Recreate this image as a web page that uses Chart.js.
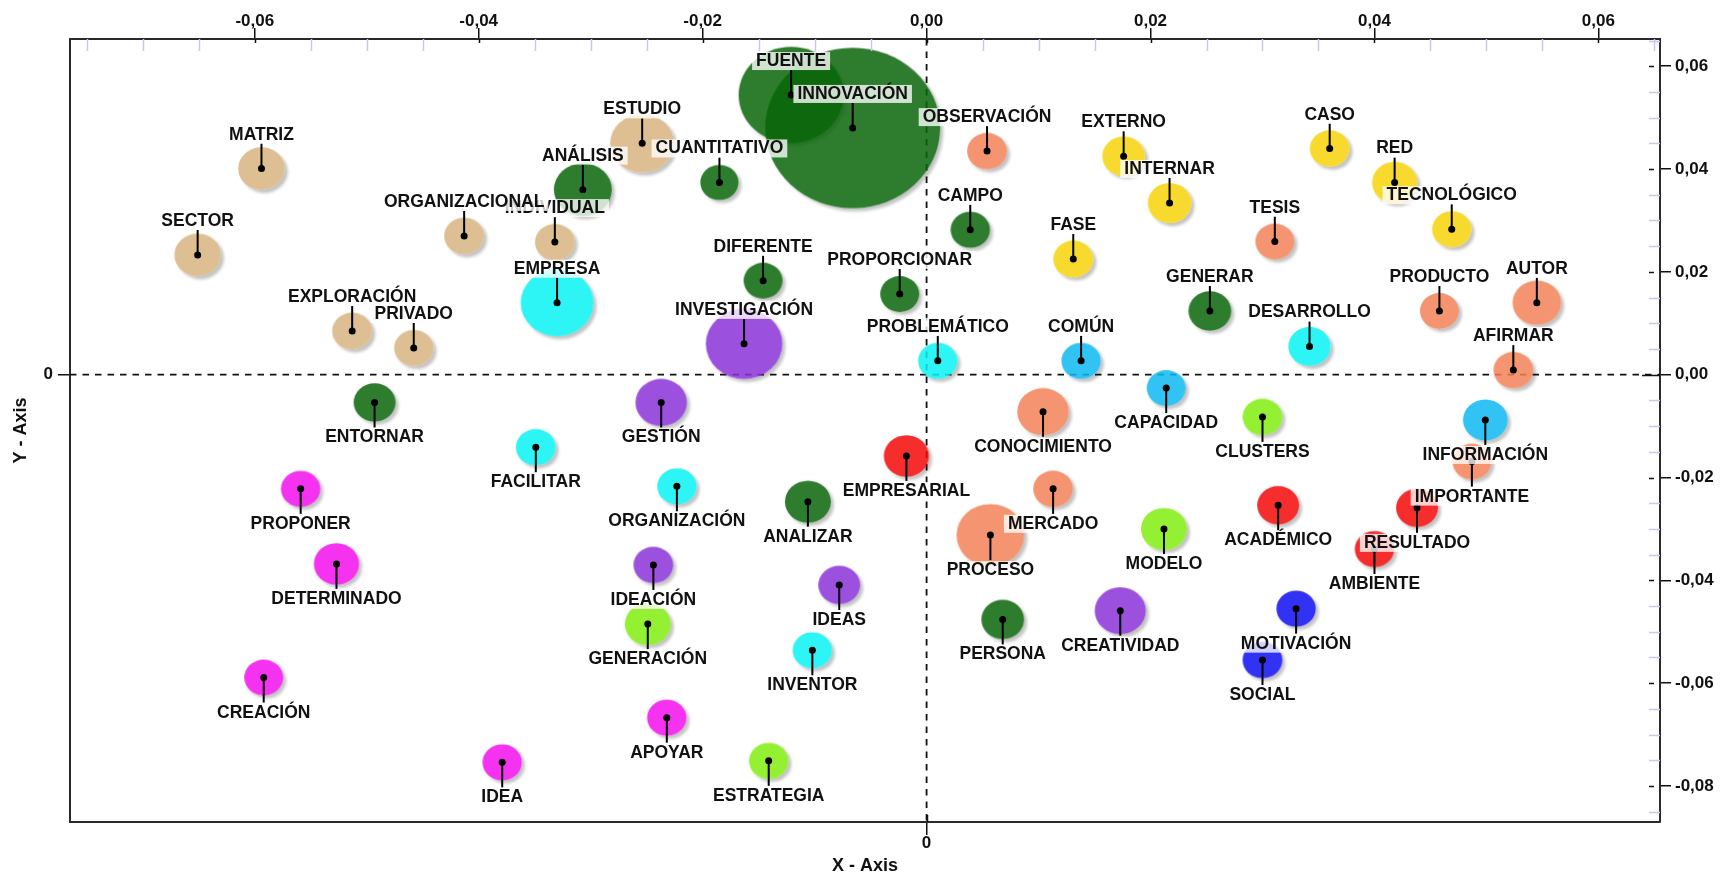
<!DOCTYPE html>
<html lang="es">
<head>
<meta charset="utf-8">
<title>Mapa de términos</title>
<script src="https://cdn.jsdelivr.net/npm/chart.js@4/dist/chart.umd.min.js"></script>
<style>
  html, body { margin: 0; padding: 0; background: #ffffff; }
  #wrap { width: 1720px; height: 874px; }
  canvas { display: block; }
</style>
</head>
<body>
<div id="wrap"><canvas id="map" width="1720" height="874"></canvas></div>
<script>
// ---- Terms and their coordinates on the two factorial axes ----
const terms = [
  'MATRIZ', 'SECTOR', 'INDIVIDUAL', 'ORGANIZACIONAL', 'ESTUDIO', 'EXPLORACIÓN', 'PRIVADO',
  'FUENTE', 'INNOVACIÓN', 'ANÁLISIS', 'CUANTITATIVO', 'CAMPO', 'DIFERENTE', 'PROPORCIONAR',
  'GENERAR', 'ENTORNAR', 'ANALIZAR', 'PERSONA',
  'EMPRESA', 'PROBLEMÁTICO', 'DESARROLLO', 'FACILITAR', 'ORGANIZACIÓN', 'INVENTOR',
  'OBSERVACIÓN', 'TESIS', 'PRODUCTO', 'AUTOR', 'AFIRMAR', 'CONOCIMIENTO', 'MERCADO', 'PROCESO', 'IMPORTANTE',
  'EXTERNO', 'INTERNAR', 'CASO', 'RED', 'TECNOLÓGICO', 'FASE',
  'COMÚN', 'CAPACIDAD', 'INFORMACIÓN',
  'CLUSTERS', 'MODELO', 'GENERACIÓN', 'ESTRATEGIA',
  'EMPRESARIAL', 'ACADÉMICO', 'AMBIENTE', 'RESULTADO',
  'INVESTIGACIÓN', 'GESTIÓN', 'IDEACIÓN', 'IDEAS', 'CREATIVIDAD',
  'PROPONER', 'DETERMINADO', 'CREACIÓN', 'IDEA', 'APOYAR',
  'MOTIVACIÓN', 'SOCIAL'
];

const xValues = [
  -0.0594, -0.0651, -0.0332, -0.0413, -0.0254, -0.0513, -0.0458,
  -0.0121, -0.0066, -0.0307, -0.0185, 0.0039, -0.0146, -0.0024,
  0.0253, -0.0493, -0.0106, 0.0068,
  -0.0330, 0.0010, 0.0342, -0.0349, -0.0223, -0.0102,
  0.0054, 0.0311, 0.0458, 0.0545, 0.0524, 0.0104, 0.0113, 0.0057, 0.0487,
  0.0176, 0.0217, 0.0360, 0.0418, 0.0469, 0.0131,
  0.0138, 0.0214, 0.0499,
  0.0300, 0.0212, -0.0249, -0.0141,
  -0.0018, 0.0314, 0.0400, 0.0438,
  -0.0163, -0.0237, -0.0244, -0.0078, 0.0173,
  -0.0559, -0.0527, -0.0592, -0.0379, -0.0232,
  0.0330, 0.0300
];

const yValues = [
  0.0401, 0.0233, 0.0258, 0.0270, 0.0450, 0.0085, 0.0052,
  0.0544, 0.0480, 0.0360, 0.0374, 0.0282, 0.0183, 0.0157,
  0.0124, -0.0054, -0.0247, -0.0476,
  0.0140, 0.0027, 0.0055, -0.0141, -0.0217, -0.0536,
  0.0435, 0.0259, 0.0124, 0.0140, 0.0009, -0.0072, -0.0222, -0.0312, -0.0169,
  0.0425, 0.0334, 0.0440, 0.0374, 0.0283, 0.0225,
  0.0027, -0.0026, -0.0088,
  -0.0082, -0.0300, -0.0485, -0.0751,
  -0.0158, -0.0254, -0.0339, -0.0259,
  0.0060, -0.0054, -0.0370, -0.0409, -0.0459,
  -0.0222, -0.0368, -0.0589, -0.0754, -0.0667,
  -0.0455, -0.0555
];

// Bubble size (weight of each term)
const bubbleSizes = [
  23.3, 23.3, 19.9, 20.0, 32.0, 20.1, 19.7,
  52.5, 87.5, 29.0, 19.1, 19.7, 19.5, 19.5,
  21.4, 21.0, 23.0, 21.4,
  36.5, 19.7, 21.2, 19.9, 19.7, 19.7,
  19.9, 19.5, 19.5, 24.3, 19.9, 25.8, 19.9, 33.9, 19.5,
  21.4, 21.8, 19.9, 22.6, 19.7, 20.1,
  19.7, 19.5, 22.4,
  19.9, 23.0, 23.0, 19.7,
  22.6, 21.0, 19.7, 21.0,
  38.3, 25.8, 19.9, 21.0, 25.6,
  19.7, 22.6, 19.5, 19.7, 19.7,
  19.7, 19.9
];

// Cluster each term belongs to
const clusters = [
  0, 0, 0, 0, 0, 0, 0,
  1, 1, 1, 1, 1, 1, 1,
  1, 1, 1, 1,
  2, 2, 2, 2, 2, 2,
  3, 3, 3, 3, 3, 3, 3, 3, 3,
  4, 4, 4, 4, 4, 4,
  5, 5, 5,
  6, 6, 6, 6,
  7, 7, 7, 7,
  8, 8, 8, 8, 8,
  9, 9, 9, 9, 9,
  10, 10
];

const xTickValues = [-0.06, -0.04, -0.02, 0, 0.02, 0.04, 0.06];
const yTickValues = [-0.08, -0.06, -0.04, -0.02, 0, 0.02, 0.04, 0.06];

// ---- Styling ----
const X_MIN = -0.0765, X_MAX = 0.0655;
const Y_MIN = -0.0870, Y_MAX = 0.0653;
const FILL_ALPHA = 0.85;
const ELLIPSE_ASPECT = 1.09;           // horizontal / vertical radius
const clusterPalette = [
  [222, 191, 147],  // tan
  [46, 125, 46],    // green
  [46, 245, 245],   // cyan
  [245, 148, 112],  // salmon
  [248, 218, 46],   // yellow
  [50, 195, 245],   // light blue
  [148, 240, 50],   // light green
  [245, 45, 45],    // red
  [155, 82, 222],   // purple
  [245, 50, 240],   // magenta
  [50, 50, 245]     // blue
];
const FONT_FAMILY = '"Liberation Sans", Arial, Helvetica, sans-serif';
const TEXT_COLOR = '#111111';

Chart.defaults.font.family = FONT_FAMILY;

// translucent fill that looks like the palette colour over white
function translucent(rgb) {
  const c = rgb.map(v => Math.max(0, Math.min(255, Math.round((v - 255 * (1 - FILL_ALPHA)) / FILL_ALPHA))));
  return `rgba(${c[0]},${c[1]},${c[2]},${FILL_ALPHA})`;
}

// Sprite for one bubble: soft drop shadow plus a translucent ellipse
function bubbleSprite(rx, rgb) {
  const ry = rx / ELLIPSE_ASPECT;
  const pad = 8;
  const w = Math.ceil(2 * (rx + pad));
  const h = Math.ceil(2 * (ry + pad));
  const cv = document.createElement('canvas');
  cv.width = w; cv.height = h;
  const g = cv.getContext('2d');
  const cx = w / 2, cy = h / 2;
  g.save();
  g.filter = 'blur(1.6px)';
  g.fillStyle = 'rgba(0,0,0,0.24)';
  g.beginPath(); g.ellipse(cx + 3, cy + 3, rx, ry, 0, 0, Math.PI * 2); g.fill();
  g.restore();
  g.globalCompositeOperation = 'destination-out';
  g.beginPath(); g.ellipse(cx, cy, rx, ry, 0, 0, Math.PI * 2); g.fill();
  g.globalCompositeOperation = 'source-over';
  g.fillStyle = translucent(rgb);
  g.beginPath(); g.ellipse(cx, cy, rx, ry, 0, 0, Math.PI * 2); g.fill();
  return cv;
}

const sprites = terms.map((t, i) => bubbleSprite(bubbleSizes[i], clusterPalette[clusters[i]]));

const fmt = v => Number(v).toFixed(2).replace('.', ',');

// Zero lines and fine tick marks around the frame
const frameDetails = {
  id: 'frameDetails',
  beforeDatasetsDraw(chart) {
    const { ctx, chartArea: a, scales: { x, y } } = chart;
    const x0 = x.getPixelForValue(0), y0 = y.getPixelForValue(0);
    ctx.save();
    ctx.strokeStyle = TEXT_COLOR;
    ctx.lineWidth = 1.8;
    ctx.setLineDash([6.5, 6]);
    ctx.beginPath();
    ctx.moveTo(x0, a.top); ctx.lineTo(x0, a.bottom);
    ctx.moveTo(a.left, y0); ctx.lineTo(a.right, y0);
    ctx.stroke();
    ctx.restore();
  },
  afterDatasetsDraw(chart) {
    const { ctx, chartArea: a, scales: { x, y } } = chart;
    ctx.save();
    ctx.lineWidth = 1.5;
    // top axis: light minor ticks inward, major ticks cross the frame
    for (let k = Math.ceil(X_MIN * 200); k <= Math.floor(X_MAX * 200); k++) {
      const px = Math.round(x.getPixelForValue(k / 200)) + 0.5;
      ctx.beginPath();
      if (k % 4 === 0) {
        ctx.strokeStyle = TEXT_COLOR;
        ctx.moveTo(px, a.top); ctx.lineTo(px, a.top + 4);
      } else {
        ctx.strokeStyle = 'rgb(200,200,238)';
        ctx.moveTo(px, a.top); ctx.lineTo(px, a.top + 12);
      }
      ctx.stroke();
    }
    // right axis
    for (let k = Math.ceil(Y_MIN * 200); k <= Math.floor(Y_MAX * 200); k++) {
      const py = Math.round(y.getPixelForValue(k / 200)) + 0.5;
      ctx.beginPath();
      if (k === 0) {
        ctx.strokeStyle = TEXT_COLOR;
        ctx.moveTo(a.right - 18, py); ctx.lineTo(a.right, py);
      } else if (k % 4 === 0) {
        ctx.strokeStyle = TEXT_COLOR;
        ctx.moveTo(a.right - 11, py); ctx.lineTo(a.right - 6, py);
      } else {
        ctx.strokeStyle = 'rgb(200,200,238)';
        ctx.moveTo(a.right - 11, py); ctx.lineTo(a.right, py);
      }
      ctx.stroke();
    }
    // bottom zero tick crosses the frame slightly
    const bx = Math.round(x.getPixelForValue(0)) + 0.5;
    ctx.strokeStyle = TEXT_COLOR;
    ctx.beginPath(); ctx.moveTo(bx, a.bottom - 7); ctx.lineTo(bx, a.bottom); ctx.stroke();
    ctx.restore();
  }
};

// Term labels: pin line from the bubble centre to a boxed caption
const termLabels = {
  id: 'termLabels',
  afterDatasetsDraw(chart) {
    const { ctx } = chart;
    const meta = chart.getDatasetMeta(0);
    ctx.save();
    // pins and centre dots
    meta.data.forEach((el, i) => {
      const up = yValues[i] > 0;
      ctx.strokeStyle = '#000';
      ctx.lineWidth = 2;
      ctx.beginPath();
      ctx.moveTo(el.x, el.y);
      ctx.lineTo(el.x, up ? el.y - 25 : el.y + 25);
      ctx.stroke();
      ctx.fillStyle = '#000';
      ctx.beginPath(); ctx.arc(el.x, el.y, 3.5, 0, Math.PI * 2); ctx.fill();
    });
    // captions with translucent white boxes
    ctx.font = `bold 17.5px ${FONT_FAMILY}`;
    ctx.textAlign = 'center';
    ctx.textBaseline = 'alphabetic';
    meta.data.forEach((el, i) => {
      const up = yValues[i] > 0;
      const base = up ? el.y - 29 : el.y + 40;
      const w = ctx.measureText(terms[i]).width;
      ctx.fillStyle = 'rgba(255,255,255,0.78)';
      ctx.fillRect(el.x - w / 2 - 4, base - 14, w + 8, 18);
      ctx.fillStyle = TEXT_COLOR;
      ctx.fillText(terms[i], el.x, base);
    });
    ctx.restore();
  }
};

const tickFont = { size: 17, weight: 'bold', lineHeight: 1 };
const titleFont = { size: 18, weight: 'bold', lineHeight: 1 };
const frameBorder = { display: true, color: '#2a2a2a', width: 2 };

new Chart(document.getElementById('map'), {
  type: 'bubble',
  data: {
    datasets: [{
      data: terms.map((t, i) => ({ x: xValues[i], y: yValues[i], r: bubbleSizes[i] })),
      pointStyle: c => sprites[c.dataIndex],
      backgroundColor: 'rgba(0,0,0,0)',
      borderWidth: 0,
      xAxisID: 'x',
      yAxisID: 'y'
    }]
  },
  options: {
    responsive: false,
    animation: false,
    devicePixelRatio: 1,
    events: [],
    layout: { padding: 0, autoPadding: false },
    plugins: { legend: { display: false }, tooltip: { enabled: false } },
    scales: {
      x: {
        type: 'linear', position: 'top', min: X_MIN, max: X_MAX,
        afterBuildTicks: s => { s.ticks = xTickValues.map(v => ({ value: v })); },
        afterFit: s => { s.height = 39; },
        ticks: { callback: fmt, font: tickFont, color: TEXT_COLOR, padding: -2, maxRotation: 0, autoSkip: false },
        grid: { drawOnChartArea: false, drawTicks: true, tickLength: 11, color: TEXT_COLOR, lineWidth: 1.5 },
        border: frameBorder
      },
      x2: {
        type: 'linear', axis: 'x', position: 'bottom', min: X_MIN, max: X_MAX,
        afterBuildTicks: s => { s.ticks = [{ value: 0 }]; },
        afterFit: s => { s.height = 52; },
        ticks: { callback: () => '0', font: tickFont, color: TEXT_COLOR, padding: 0, maxRotation: 0, autoSkip: false },
        grid: { drawOnChartArea: false, drawTicks: true, tickLength: 13, color: TEXT_COLOR, lineWidth: 1.5 },
        border: frameBorder,
        title: { display: true, text: 'X - Axis', font: titleFont, color: TEXT_COLOR, padding: { top: 0, bottom: -1 } }
      },
      y: {
        type: 'linear', position: 'right', min: Y_MIN, max: Y_MAX,
        afterBuildTicks: s => { s.ticks = yTickValues.map(v => ({ value: v })); },
        afterFit: s => { s.width = 60; },
        ticks: { callback: fmt, font: tickFont, color: TEXT_COLOR, padding: 4, autoSkip: false },
        grid: { drawOnChartArea: false, drawTicks: true, tickLength: 11, color: TEXT_COLOR, lineWidth: 1.5 },
        border: frameBorder
      },
      y2: {
        type: 'linear', axis: 'y', position: 'left', min: Y_MIN, max: Y_MAX,
        afterBuildTicks: s => { s.ticks = [{ value: 0 }]; },
        afterFit: s => { s.width = 70; },
        ticks: { callback: () => '0', font: tickFont, color: TEXT_COLOR, padding: 5, autoSkip: false },
        grid: { drawOnChartArea: false, drawTicks: true, tickLength: 12, color: TEXT_COLOR, lineWidth: 1.5 },
        border: frameBorder,
        title: { display: true, text: 'Y - Axis', font: titleFont, color: TEXT_COLOR, padding: { top: 12, bottom: 0 } }
      }
    }
  },
  plugins: [frameDetails, termLabels]
});
</script>
</body>
</html>
